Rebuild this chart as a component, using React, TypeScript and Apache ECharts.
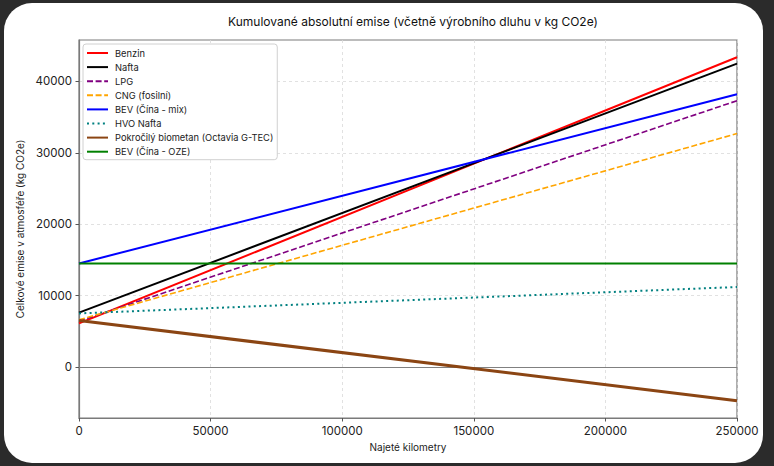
import React, { useEffect, useRef } from "react";
import * as echarts from "echarts";

const xRange = [0, 250000];
const xTicks = [0, 50000, 100000, 150000, 200000, 250000];
const yTicks = [0, 10000, 20000, 30000, 40000];

const seriesNames = [
  "Benzin",
  "Nafta",
  "LPG",
  "CNG (fosilní)",
  "BEV (Čína - mix)",
  "HVO Nafta",
  "Pokročilý biometan (Octavia G-TEC)",
  "BEV (Čína - OZE)",
];
const startValues = [6100, 7600, 6400, 6600, 14500, 7500, 6500, 14500];
const endValues = [43400, 42500, 37300, 32700, 38200, 11200, -4750, 14500];

const colors = ["#ff0000", "#000000", "#800080", "#ffa500", "#0000ff", "#008080", "#8b4513", "#008000"];
const widths = [2, 2, 1.6, 1.6, 2, 2, 3, 2];
const dashes: any[] = ["solid", "solid", [6, 2.6], [6, 2.6], "solid", [2, 3.3], "solid", "solid"];

const FONT = "Inter, 'Noto Sans', sans-serif";

export default function App() {
  const ref = useRef<HTMLDivElement>(null);
  useEffect(() => {
    document.body.style.margin = "0";
    const chart = echarts.init(ref.current!, null, { renderer: "svg" });
    const series: any[] = seriesNames.map((name, i) => ({
      name,
      type: "line",
      data: [
        [xRange[0], startValues[i]],
        [xRange[1], endValues[i]],
      ],
      showSymbol: false,
      symbol: "none",
      lineStyle: { color: colors[i], width: widths[i], type: dashes[i], cap: "butt" },
      itemStyle: { color: colors[i] },
      emphasis: { disabled: true },
      silent: true,
      z: 3,
    }));
    series[0].markLine = {
      silent: true,
      symbol: "none",
      label: { show: false },
      lineStyle: { color: "#808080", width: 1, type: "solid" },
      data: [{ yAxis: 0 }],
      z: 2,
    };
    chart.setOption({
      animation: false,
      textStyle: { fontFamily: FONT },
      title: {
        text: "Kumulované absolutní emise (včetně výrobního dluhu v kg CO2e)",
        left: 408,
        top: 10,
        textAlign: "center",
        textStyle: { fontFamily: FONT, fontSize: 12, fontWeight: "normal", color: "#111" },
      },
      grid: {
        left: 79,
        top: 40,
        right: 37,
        bottom: 48,
        show: true,
        borderColor: "#7a7a7a",
        borderWidth: 1.2,
        backgroundColor: "transparent",
      },
      legend: {
        orient: "vertical",
        left: 83,
        top: 44,
        padding: [4, 4, 3, 3],
        itemGap: 4.1,
        itemWidth: 21,
        itemHeight: 10,
        backgroundColor: "#ffffff",
        borderColor: "#d0d0d0",
        borderWidth: 1,
        borderRadius: 3,
        itemStyle: { opacity: 0 },
        textStyle: { fontFamily: FONT, fontSize: 9.3, color: "#222", lineHeight: 10, padding: [0, 0, 0, 2] },
        data: seriesNames,
        selectedMode: false,
      },
      xAxis: {
        type: "value",
        min: xRange[0],
        max: xRange[1],
        interval: 50000,
        name: "Najeté kilometry",
        nameLocation: "middle",
        nameGap: 22,
        nameTextStyle: { fontFamily: FONT, fontSize: 10, color: "#222" },
        axisLine: { show: true, onZero: false, lineStyle: { color: "#7a7a7a", width: 1.2 } },
        axisTick: { show: true, length: 3.5, lineStyle: { color: "#555" }, customValues: xTicks },
        axisLabel: {
          fontFamily: FONT,
          fontSize: 11.5,
          color: "#222",
          margin: 7,
          customValues: xTicks,
          formatter: (v: number) => String(v),
        },
        splitLine: { show: true, lineStyle: { color: "#d9d9d9", width: 0.8, type: [3, 3] } },
      },
      yAxis: {
        type: "value",
        min: -7160,
        max: 45810,
        name: "Celkové emise v atmosféře (kg CO2e)",
        nameLocation: "middle",
        nameGap: 52,
        nameTextStyle: { fontFamily: FONT, fontSize: 10, color: "#222" },
        axisLine: { show: true, lineStyle: { color: "#7a7a7a", width: 1.2 } },
        axisTick: { show: true, length: 3.5, lineStyle: { color: "#555" }, customValues: yTicks },
        axisLabel: {
          fontFamily: FONT,
          fontSize: 11.5,
          color: "#222",
          margin: 7,
          customValues: yTicks,
          formatter: (v: number) => String(v),
        },
        splitLine: { show: true, lineStyle: { color: "#d9d9d9", width: 0.8, type: [3, 3] } },
      },
      series,
    });
    return () => chart.dispose();
  }, []);
  return (
    <div style={{ position: "relative", width: 774, height: 466, background: "#2b2b2b", overflow: "hidden" }}>
      <div
        style={{
          position: "absolute",
          left: 4,
          top: 3,
          width: 759,
          height: 460,
          background: "#ffffff",
          borderRadius: 28,
        }}
      />
      <div ref={ref} style={{ position: "absolute", left: 0, top: 0, width: 774, height: 466 }} />
    </div>
  );
}
